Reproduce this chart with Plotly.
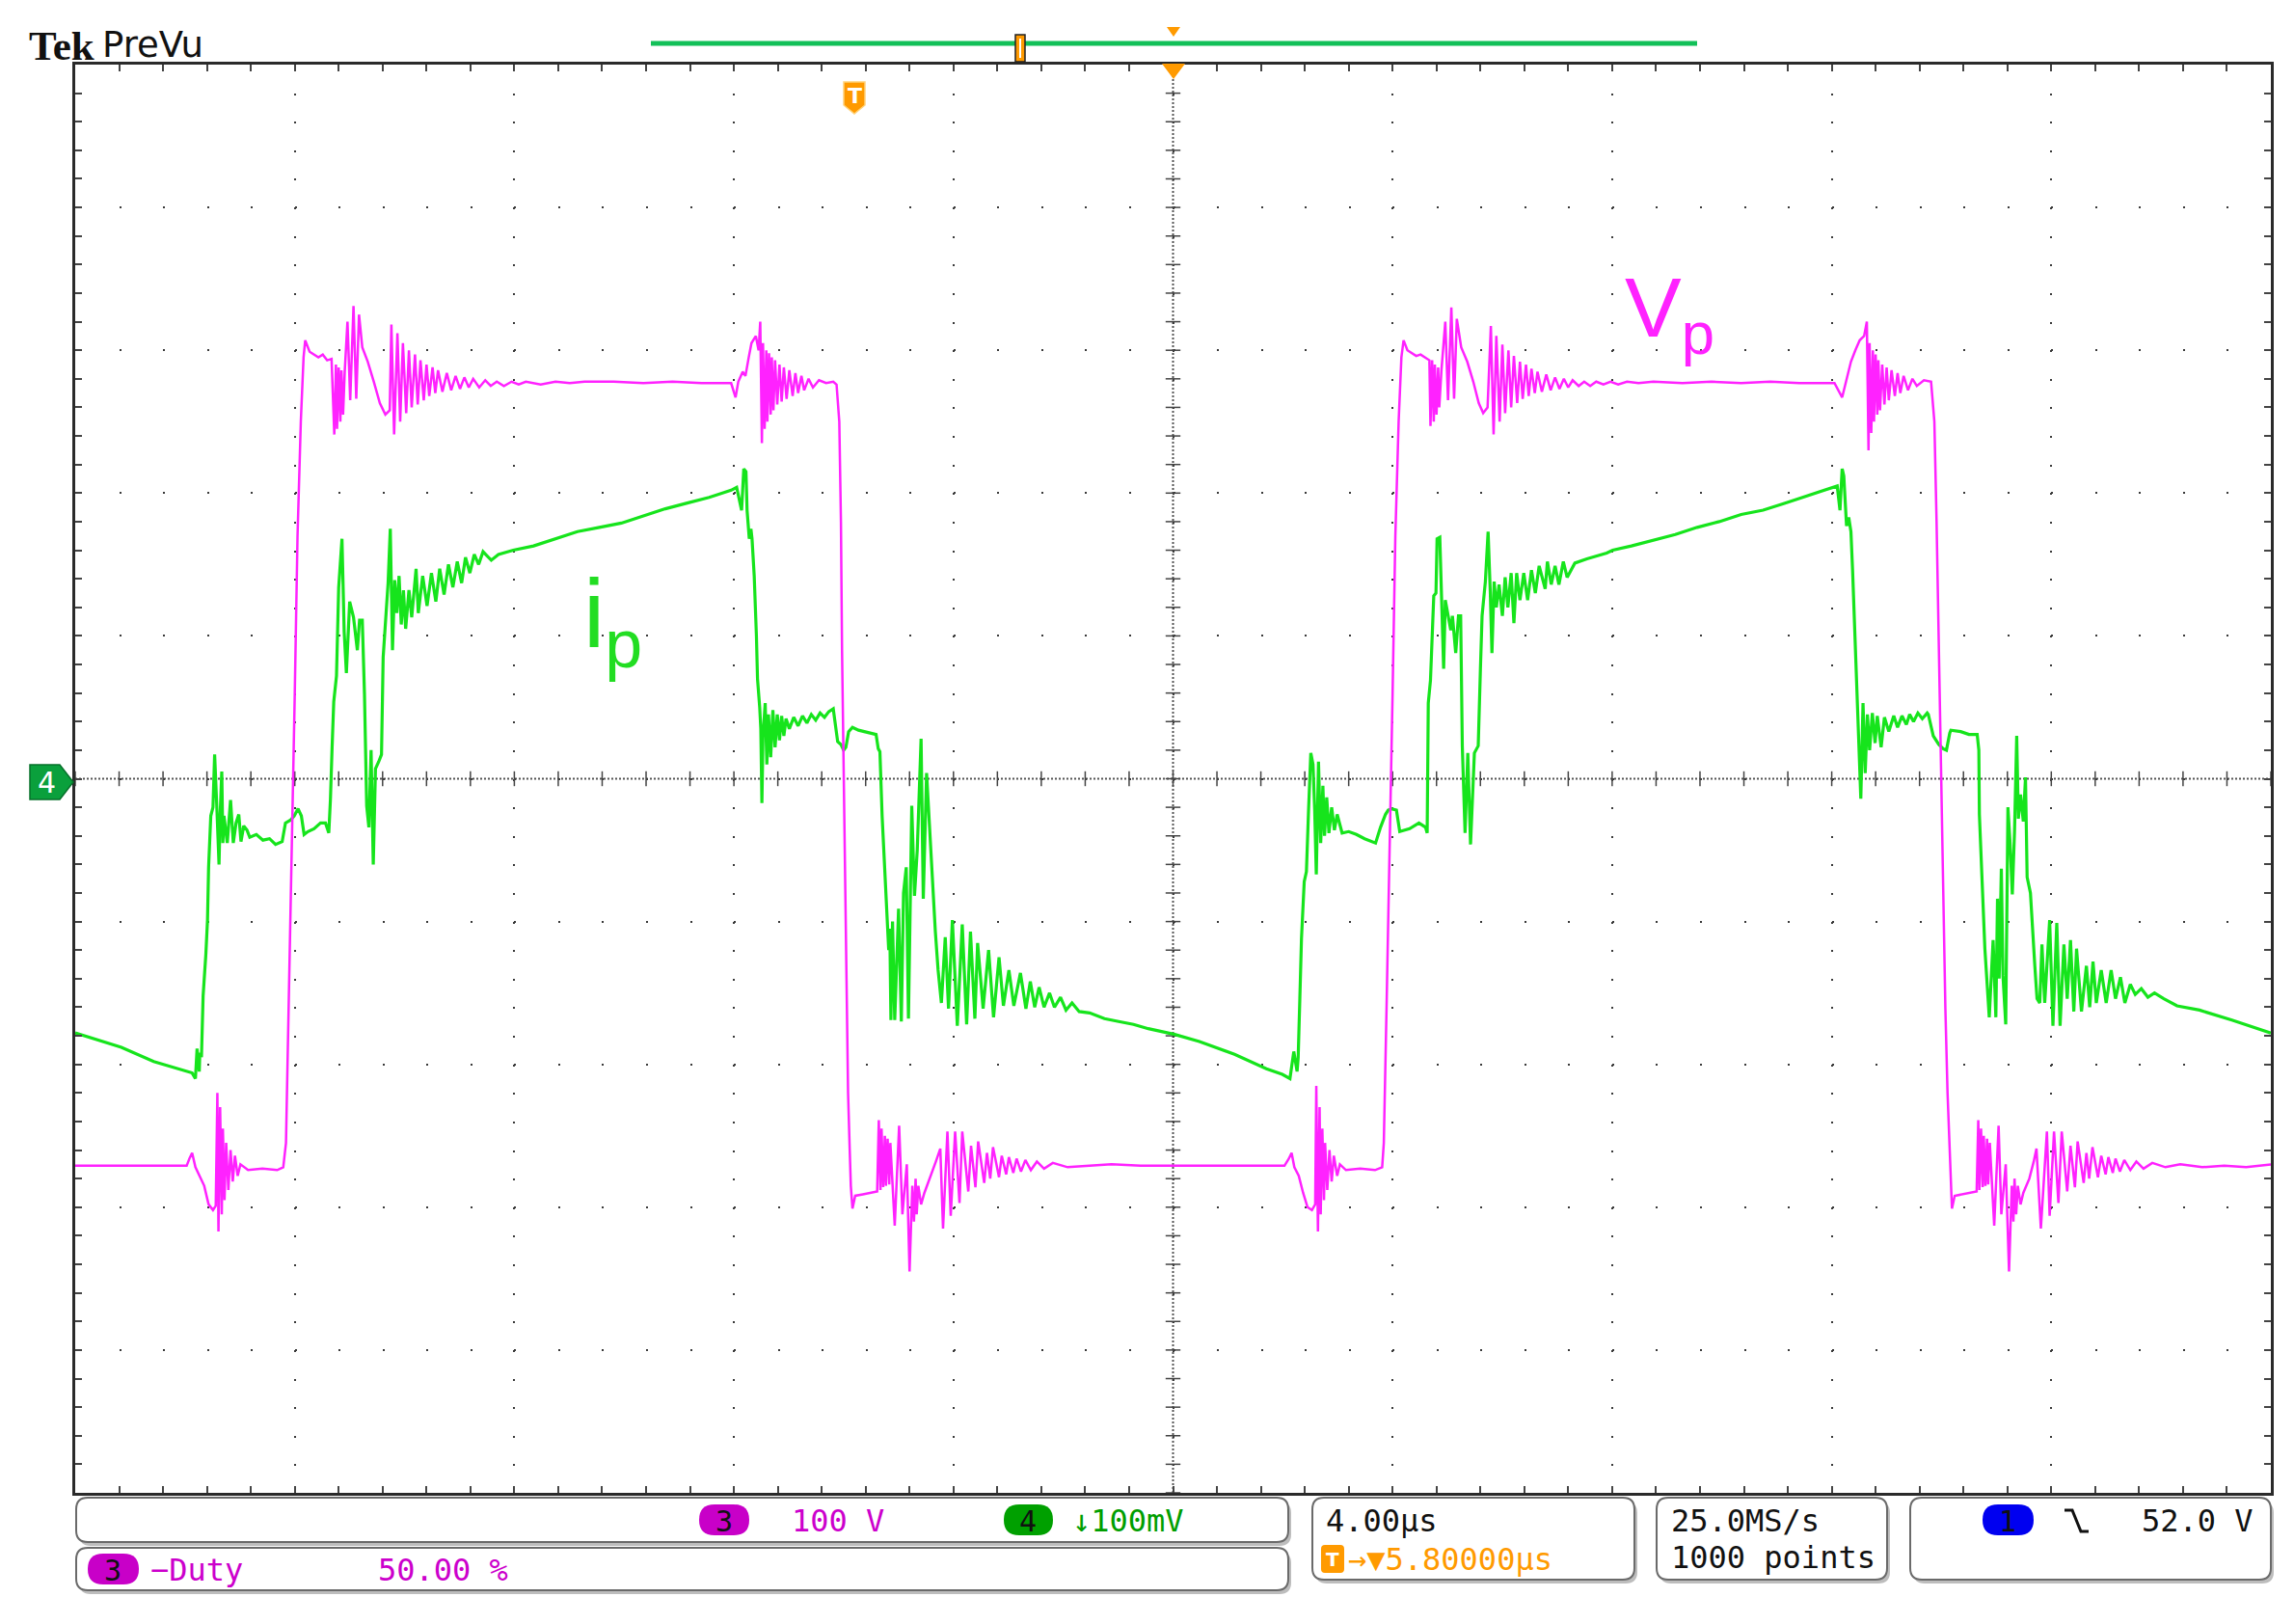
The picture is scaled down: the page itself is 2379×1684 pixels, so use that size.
import plotly.graph_objects as go

# page geometry in pixels (as measured on the screenshot)
W, H = 2379, 1684
L, R, T, B = 78, 24, 67, 136
PW, PH = W - L - R, H - T - B
OFF = 8  # default body margin of the html page

# scope settings: 4 us/div x 10 div, 10 vertical div
# ch3 (Vp) 100 V/div, ch4 (ip) 100 mV/div, values below in divisions
t_range = [0, 40]
div_range = [-5, 5]

# Vp (ch3), (time us, divisions)
vp_cycle1 = [
    (0.00, -2.71), (1.28, -2.71), (2.03, -2.71), (2.08, -2.66), (2.13, -2.62), (2.19, -2.72),
    (2.27, -2.78), (2.35, -2.85), (2.43, -2.98), (2.51, -3.02), (2.56, -2.99),
    (2.59, -2.20), (2.61, -3.17), (2.64, -2.30), (2.67, -3.05), (2.69, -2.45), (2.72, -2.95),
    (2.75, -2.55), (2.79, -2.88), (2.83, -2.60), (2.87, -2.82), (2.91, -2.64), (2.96, -2.78),
    (3.01, -2.70), (3.15, -2.74), (3.41, -2.73), (3.68, -2.74), (3.79, -2.72),
    (3.84, -2.55), (3.89, -1.60), (3.95, -0.50), (4.00, 0.60), (4.05, 1.70), (4.11, 2.50),
    (4.16, 2.95), (4.19, 3.07),
    (4.27, 2.99), (4.35, 2.97), (4.43, 2.95), (4.51, 2.97), (4.59, 2.93), (4.67, 2.94),
    (4.72, 2.41), (4.75, 2.90), (4.77, 2.45), (4.80, 2.88), (4.83, 2.50), (4.85, 2.86),
    (4.88, 2.55), (4.91, 2.85),
    (4.96, 3.20), (5.01, 2.65), (5.07, 3.31), (5.12, 2.66), (5.17, 3.25),
    (5.23, 3.02), (5.33, 2.92), (5.44, 2.78), (5.55, 2.63), (5.65, 2.55), (5.73, 2.58),
    (5.76, 3.18), (5.81, 2.41), (5.87, 3.12), (5.92, 2.50), (5.97, 3.05), (6.03, 2.56),
    (6.08, 3.00), (6.13, 2.60), (6.19, 2.97), (6.24, 2.62), (6.29, 2.93), (6.35, 2.65),
    (6.40, 2.90), (6.45, 2.68), (6.51, 2.88), (6.56, 2.70), (6.61, 2.86), (6.69, 2.71),
    (6.77, 2.84), (6.85, 2.72), (6.93, 2.82), (7.01, 2.73), (7.09, 2.81), (7.17, 2.74),
    (7.25, 2.80), (7.36, 2.74), (7.47, 2.79), (7.57, 2.75), (7.68, 2.78), (7.81, 2.75),
    (7.95, 2.78), (8.08, 2.76), (8.21, 2.78), (8.48, 2.76), (8.75, 2.78), (9.01, 2.77),
    (9.28, 2.78), (9.81, 2.78), (10.35, 2.77), (10.88, 2.78), (11.41, 2.77), (11.95, 2.77),
    (12.03, 2.67), (12.08, 2.78), (12.16, 2.85), (12.21, 2.82), (12.27, 2.95), (12.32, 3.05),
    (12.40, 3.10), (12.45, 3.00), (12.48, 3.20), (12.51, 2.35), (12.53, 3.05), (12.56, 2.45),
    (12.59, 3.00), (12.61, 2.50), (12.64, 2.98), (12.67, 2.55), (12.69, 2.95), (12.72, 2.58),
    (12.75, 2.93), (12.79, 2.62), (12.83, 2.90), (12.87, 2.64), (12.91, 2.88), (12.96, 2.66),
    (13.01, 2.86), (13.07, 2.68), (13.12, 2.84), (13.17, 2.70), (13.23, 2.82), (13.28, 2.72),
    (13.36, 2.80), (13.44, 2.74), (13.55, 2.79), (13.68, 2.77), (13.81, 2.78), (13.87, 2.76),
    (13.92, 2.50), (13.95, 1.80), (13.97, 0.90), (14.00, 0.00), (14.03, -0.90), (14.05, -1.60),
    (14.08, -2.20), (14.11, -2.60), (14.13, -2.85), (14.16, -3.01),
    (14.21, -2.92), (14.35, -2.91), (14.48, -2.90), (14.61, -2.89),
    (14.64, -2.39), (14.67, -2.88), (14.69, -2.45), (14.72, -2.86), (14.75, -2.50), (14.77, -2.85),
    (14.80, -2.52), (14.83, -2.84), (14.85, -2.55), (14.88, -2.80),
    (14.93, -3.13), (15.01, -2.43), (15.07, -3.05), (15.15, -2.70), (15.20, -3.45), (15.25, -2.85),
    (15.28, -3.10), (15.31, -2.80), (15.33, -3.05), (15.36, -2.85), (15.41, -2.98), (15.47, -2.90),
    (15.57, -2.80), (15.68, -2.68), (15.76, -2.59), (15.81, -3.15), (15.89, -2.47), (15.95, -3.06),
    (16.03, -2.47), (16.11, -2.97), (16.16, -2.47), (16.27, -2.89), (16.32, -2.57), (16.40, -2.86),
    (16.45, -2.54), (16.56, -2.83), (16.61, -2.62), (16.67, -2.80), (16.72, -2.58), (16.83, -2.79),
    (16.88, -2.64), (16.96, -2.77), (17.01, -2.65), (17.09, -2.76), (17.15, -2.66), (17.23, -2.75),
    (17.31, -2.67), (17.41, -2.74), (17.52, -2.68), (17.65, -2.73), (17.81, -2.69), (18.08, -2.72),
    (18.48, -2.71), (18.88, -2.70), (19.41, -2.71), (20.00, -2.71),
]

vp_cycle2 = [
    (20.75, -2.71), (21.55, -2.71), (22.03, -2.71), (22.11, -2.66), (22.16, -2.62), (22.21, -2.72),
    (22.29, -2.78), (22.37, -2.90), (22.45, -3.00), (22.53, -3.02), (22.59, -2.98),
    (22.61, -2.15), (22.64, -3.17), (22.67, -2.30), (22.69, -3.05), (22.72, -2.45), (22.75, -2.95),
    (22.77, -2.55), (22.81, -2.88), (22.85, -2.60), (22.89, -2.82), (22.93, -2.64), (22.99, -2.78),
    (23.04, -2.70), (23.15, -2.74), (23.41, -2.73), (23.68, -2.74), (23.81, -2.72),
    (23.84, -2.55), (23.89, -1.60), (23.95, -0.50), (24.00, 0.60), (24.05, 1.70), (24.11, 2.50),
    (24.16, 2.95), (24.20, 3.07),
    (24.27, 3.00), (24.35, 2.98), (24.43, 2.96), (24.51, 2.97), (24.59, 2.95), (24.67, 2.93),
    (24.69, 2.47), (24.72, 2.93), (24.75, 2.50), (24.77, 2.90), (24.80, 2.55), (24.83, 2.88),
    (24.85, 2.60), (24.89, 2.86),
    (24.96, 3.20), (25.01, 2.65), (25.07, 3.30), (25.12, 2.66), (25.17, 3.22),
    (25.25, 3.02), (25.36, 2.92), (25.47, 2.78), (25.57, 2.63), (25.65, 2.56), (25.73, 2.60),
    (25.79, 3.17), (25.84, 2.41), (25.89, 3.10), (25.95, 2.50), (26.00, 3.04), (26.05, 2.56),
    (26.11, 3.00), (26.16, 2.60), (26.21, 2.96), (26.27, 2.63), (26.32, 2.92), (26.37, 2.66),
    (26.43, 2.90), (26.48, 2.68), (26.53, 2.87), (26.59, 2.70), (26.64, 2.85), (26.72, 2.71),
    (26.80, 2.83), (26.88, 2.72), (26.96, 2.81), (27.04, 2.73), (27.12, 2.80), (27.20, 2.74),
    (27.28, 2.79), (27.39, 2.75), (27.49, 2.78), (27.60, 2.75), (27.71, 2.78), (27.84, 2.76),
    (27.97, 2.78), (28.11, 2.76), (28.27, 2.78), (28.48, 2.77), (28.75, 2.78), (29.28, 2.77),
    (29.81, 2.78), (30.35, 2.77), (30.88, 2.78), (31.41, 2.77), (32.05, 2.77),
    (32.19, 2.67), (32.24, 2.75), (32.35, 2.92), (32.43, 3.00), (32.51, 3.07), (32.59, 3.10),
    (32.64, 3.20), (32.67, 2.30), (32.69, 3.05), (32.72, 2.42), (32.75, 3.00), (32.77, 2.50),
    (32.80, 2.97), (32.83, 2.55), (32.85, 2.93), (32.88, 2.58), (32.92, 2.90), (32.96, 2.62),
    (33.00, 2.88), (33.04, 2.65), (33.09, 2.86), (33.15, 2.68), (33.20, 2.84), (33.25, 2.70),
    (33.31, 2.82), (33.39, 2.72), (33.47, 2.80), (33.55, 2.75), (33.68, 2.79), (33.81, 2.78),
    (33.87, 2.50), (33.91, 1.80), (33.95, 0.90), (33.99, 0.00), (34.03, -0.90), (34.07, -1.60),
    (34.11, -2.20), (34.15, -2.60), (34.17, -2.85), (34.19, -3.01),
    (34.24, -2.92), (34.37, -2.91), (34.51, -2.90), (34.64, -2.89),
    (34.67, -2.39), (34.69, -2.88), (34.72, -2.45), (34.75, -2.86), (34.77, -2.50), (34.80, -2.85),
    (34.83, -2.52), (34.85, -2.84), (34.88, -2.55), (34.91, -2.80),
    (34.96, -3.13), (35.04, -2.43), (35.09, -3.05), (35.17, -2.70), (35.23, -3.45), (35.28, -2.85),
    (35.31, -3.10), (35.33, -2.80), (35.36, -3.05), (35.39, -2.85), (35.44, -2.98), (35.49, -2.90),
    (35.60, -2.80), (35.68, -2.68), (35.73, -2.59), (35.81, -3.15), (35.92, -2.47), (35.97, -3.06),
    (36.05, -2.47), (36.13, -2.97), (36.19, -2.47), (36.29, -2.89), (36.35, -2.57), (36.43, -2.86),
    (36.48, -2.54), (36.59, -2.83), (36.64, -2.62), (36.69, -2.80), (36.75, -2.58), (36.85, -2.79),
    (36.91, -2.64), (36.99, -2.77), (37.04, -2.65), (37.12, -2.76), (37.17, -2.66), (37.25, -2.75),
    (37.33, -2.67), (37.44, -2.74), (37.55, -2.68), (37.68, -2.73), (37.84, -2.69), (38.08, -2.72),
    (38.35, -2.70), (38.75, -2.72), (39.15, -2.71), (39.55, -2.72), (40.00, -2.70),
]

# ip (ch4), (time us, divisions)
ip_cycle1 = [
    (0.00, -1.78), (0.84, -1.88), (1.43, -1.98), (2.01, -2.05), (2.13, -2.06), (2.19, -2.10),
    (2.22, -1.89), (2.26, -2.05), (2.27, -1.92), (2.30, -1.95), (2.33, -1.52), (2.38, -1.23),
    (2.41, -0.99), (2.43, -0.62), (2.47, -0.26), (2.51, -0.20), (2.54, 0.17), (2.58, -0.20),
    (2.62, -0.60), (2.64, -0.26), (2.67, 0.05), (2.69, -0.45), (2.71, -0.26), (2.77, -0.45),
    (2.83, -0.15), (2.88, -0.45), (2.93, -0.31), (2.98, -0.25), (3.02, -0.44), (3.07, -0.33),
    (3.13, -0.36), (3.18, -0.41), (3.30, -0.39), (3.42, -0.43), (3.54, -0.42), (3.65, -0.46),
    (3.77, -0.44), (3.83, -0.31), (3.92, -0.29), (3.99, -0.26), (4.06, -0.21), (4.12, -0.26),
    (4.17, -0.39), (4.24, -0.37), (4.35, -0.35), (4.47, -0.31), (4.56, -0.31), (4.62, -0.38),
    (4.65, -0.14), (4.68, 0.22), (4.71, 0.54), (4.76, 0.72), (4.80, 1.34), (4.86, 1.68),
    (4.90, 1.03), (4.94, 0.74), (5.00, 1.24), (5.07, 1.13), (5.14, 0.90), (5.18, 1.11),
    (5.23, 1.11), (5.27, 0.59), (5.31, -0.19), (5.35, -0.34), (5.39, 0.20), (5.43, -0.60),
    (5.47, 0.07), (5.53, 0.12), (5.58, 0.17), (5.61, 0.85), (5.66, 1.18), (5.70, 1.37),
    (5.74, 1.75), (5.78, 0.90), (5.82, 1.39), (5.86, 1.16), (5.90, 1.42), (5.94, 1.08),
    (5.98, 1.32), (6.02, 1.05), (6.08, 1.32), (6.13, 1.13), (6.21, 1.47), (6.25, 1.16),
    (6.33, 1.42), (6.41, 1.21), (6.49, 1.44), (6.57, 1.24), (6.64, 1.47), (6.72, 1.29),
    (6.80, 1.50), (6.88, 1.34), (6.96, 1.52), (7.04, 1.37), (7.11, 1.55), (7.19, 1.44),
    (7.27, 1.57), (7.35, 1.50), (7.43, 1.59), (7.58, 1.53), (7.71, 1.57), (7.98, 1.60),
    (8.35, 1.63), (8.75, 1.68), (9.15, 1.73), (9.55, 1.76), (9.95, 1.79), (10.35, 1.84),
    (10.75, 1.89), (11.15, 1.93), (11.55, 1.97), (11.95, 2.02), (12.05, 2.04),
    (12.14, 1.88), (12.18, 2.17), (12.22, 2.15), (12.24, 1.88), (12.28, 1.68), (12.31, 1.75),
    (12.33, 1.68), (12.37, 1.42), (12.41, 1.00), (12.43, 0.70), (12.47, 0.50), (12.49, 0.35),
    (12.51, -0.17), (12.53, 0.30), (12.57, 0.53), (12.60, 0.10), (12.63, 0.45), (12.67, 0.15),
    (12.71, 0.48), (12.75, 0.22), (12.79, 0.45), (12.83, 0.27), (12.87, 0.44), (12.91, 0.30),
    (12.95, 0.42), (13.01, 0.35), (13.09, 0.43), (13.17, 0.37), (13.25, 0.44), (13.33, 0.39),
    (13.41, 0.45), (13.49, 0.41), (13.57, 0.46), (13.65, 0.43), (13.73, 0.47), (13.81, 0.49),
    (13.89, 0.26), (13.95, 0.24), (14.00, 0.20), (14.04, 0.22), (14.09, 0.33), (14.16, 0.36),
    (14.27, 0.34), (14.37, 0.33), (14.48, 0.32), (14.59, 0.31), (14.63, 0.21), (14.66, 0.19),
    (14.70, -0.26), (14.75, -0.66), (14.78, -0.95), (14.82, -1.20), (14.84, -1.05), (14.86, -1.69),
    (14.89, -1.00), (14.93, -1.69), (15.00, -0.91), (15.05, -1.70), (15.09, -0.80), (15.14, -0.62),
    (15.18, -1.68), (15.24, -0.19), (15.29, -0.82), (15.34, -0.50), (15.41, 0.28), (15.45, -0.84),
    (15.51, 0.04), (15.56, -0.30), (15.61, -0.71), (15.67, -1.07), (15.72, -1.34), (15.78, -1.57),
    (15.85, -1.11), (15.91, -1.61), (15.98, -0.99), (16.07, -1.73), (16.16, -1.02), (16.24, -1.72),
    (16.31, -1.07), (16.39, -1.68), (16.44, -1.15), (16.54, -1.61), (16.64, -1.20), (16.73, -1.67),
    (16.83, -1.25), (16.91, -1.59), (17.01, -1.34), (17.10, -1.59), (17.22, -1.36), (17.32, -1.61),
    (17.40, -1.42), (17.48, -1.60), (17.56, -1.46), (17.65, -1.60), (17.75, -1.50), (17.84, -1.60),
    (17.95, -1.53), (18.05, -1.62), (18.16, -1.57), (18.29, -1.63), (18.48, -1.64), (18.75, -1.68),
    (19.01, -1.70), (19.28, -1.72), (19.55, -1.75), (19.81, -1.77), (20.03, -1.79),
]

ip_cycle2 = [
    (20.48, -1.84), (21.12, -1.93), (21.70, -2.03), (21.99, -2.07), (22.13, -2.10), (22.20, -1.91),
    (22.26, -2.05), (22.28, -1.95), (22.31, -1.54), (22.34, -1.12), (22.39, -0.72), (22.43, -0.65),
    (22.47, -0.21), (22.51, 0.18), (22.55, 0.10), (22.58, -0.21), (22.61, -0.67), (22.65, 0.12),
    (22.69, -0.45), (22.73, -0.05), (22.76, -0.40), (22.80, -0.13), (22.84, -0.38), (22.89, -0.20),
    (22.94, -0.36), (22.99, -0.25), (23.08, -0.38), (23.20, -0.37), (23.34, -0.39), (23.49, -0.42),
    (23.69, -0.45), (23.78, -0.34), (23.87, -0.25), (23.92, -0.22), (23.98, -0.21), (24.07, -0.22),
    (24.13, -0.37), (24.31, -0.35), (24.48, -0.31), (24.60, -0.34), (24.63, -0.38),
    (24.65, 0.53), (24.69, 0.69), (24.75, 1.28), (24.79, 1.30), (24.81, 1.68), (24.86, 1.69),
    (24.89, 1.20), (24.93, 0.77), (24.96, 1.25), (25.02, 1.12), (25.06, 1.04), (25.09, 1.14),
    (25.15, 0.88), (25.20, 1.14), (25.24, 1.14), (25.27, 0.23), (25.32, -0.38), (25.37, 0.18),
    (25.42, -0.46), (25.49, 0.18), (25.56, 0.23), (25.60, 0.77), (25.63, 1.14), (25.69, 1.38),
    (25.74, 1.73), (25.78, 1.30), (25.81, 0.88), (25.85, 1.38), (25.89, 1.20), (25.94, 1.36),
    (26.00, 1.14), (26.05, 1.41), (26.10, 1.20), (26.16, 1.44), (26.21, 1.09), (26.26, 1.44),
    (26.32, 1.25), (26.39, 1.44), (26.46, 1.25), (26.53, 1.46), (26.60, 1.30), (26.67, 1.49),
    (26.78, 1.33), (26.82, 1.52), (26.89, 1.36), (26.96, 1.49), (27.03, 1.36), (27.11, 1.52),
    (27.18, 1.41), (27.32, 1.51), (27.54, 1.54), (27.90, 1.58), (28.01, 1.60), (28.35, 1.63),
    (28.75, 1.67), (29.15, 1.71), (29.55, 1.76), (29.95, 1.80), (30.35, 1.85), (30.75, 1.88),
    (31.15, 1.93), (31.55, 1.98), (31.95, 2.03), (32.10, 2.05),
    (32.15, 1.88), (32.19, 2.17), (32.22, 2.12), (32.27, 1.77), (32.31, 1.83), (32.35, 1.73),
    (32.38, 1.46), (32.42, 1.04), (32.46, 0.55), (32.48, 0.31), (32.53, -0.14), (32.57, 0.53),
    (32.61, 0.04), (32.65, 0.45), (32.69, 0.20), (32.74, 0.46), (32.79, 0.25), (32.83, 0.44),
    (32.90, 0.22), (32.96, 0.43), (33.04, 0.33), (33.13, 0.44), (33.20, 0.36), (33.28, 0.44),
    (33.36, 0.38), (33.42, 0.45), (33.49, 0.40), (33.57, 0.46), (33.65, 0.42), (33.74, 0.46),
    (33.76, 0.45), (33.85, 0.30), (33.95, 0.24), (34.03, 0.21), (34.09, 0.20), (34.15, 0.32),
    (34.17, 0.34), (34.35, 0.33), (34.50, 0.31), (34.65, 0.31), (34.68, 0.20),
    (34.69, -0.25), (34.73, -0.60), (34.76, -0.96), (34.79, -1.19), (34.83, -1.43), (34.86, -1.64),
    (34.87, -1.67), (34.94, -1.13), (34.99, -1.67), (35.02, -0.84), (35.05, -1.40), (35.09, -0.63),
    (35.12, -1.38), (35.17, -1.72), (35.21, -0.20), (35.25, -0.46), (35.29, -0.81), (35.33, -0.37),
    (35.37, 0.30), (35.40, -0.28), (35.44, -0.11), (35.49, -0.30), (35.53, 0.01), (35.56, -0.69),
    (35.62, -0.80), (35.70, -1.31), (35.74, -1.54), (35.79, -1.57), (35.83, -1.16), (35.88, -1.57),
    (35.97, -0.99), (36.03, -1.73), (36.10, -1.01), (36.16, -1.73), (36.23, -1.16), (36.29, -1.54),
    (36.35, -1.13), (36.41, -1.63), (36.46, -1.19), (36.55, -1.63), (36.64, -1.31), (36.70, -1.60),
    (36.76, -1.28), (36.82, -1.57), (36.91, -1.34), (37.00, -1.57), (37.09, -1.34), (37.17, -1.54),
    (37.26, -1.39), (37.34, -1.57), (37.44, -1.44), (37.53, -1.51), (37.64, -1.47), (37.76, -1.53),
    (37.88, -1.50), (38.05, -1.54), (38.29, -1.59), (38.70, -1.62), (39.29, -1.69), (40.00, -1.78),
]

vp_t, vp_v = zip(*(vp_cycle1 + vp_cycle2))
ip_t, ip_v = zip(*(ip_cycle1 + ip_cycle2))

# colours
MAGENTA = "#ff22ff"
GREEN = "#16e41c"
ORANGE = "#ff9a00"
TXT_MAG = "#cc00cc"
TXT_GRN = "#009e00"
MONO = "DejaVu Sans Mono"


def px(x):
    return (x - L) / PW


def py(y):
    return (H - B - y) / PH


def poly(points):
    return "M " + " L ".join(f"{px(x):.5f},{py(y):.5f}" for x, y in points) + " Z"


def rrect(x0, y0, x1, y1, r):
    p = lambda x, y: f"{px(x):.5f},{py(y):.5f}"
    return (f"M {p(x0 + r, y0)} L {p(x1 - r, y0)} Q {p(x1, y0)} {p(x1, y0 + r)} "
            f"L {p(x1, y1 - r)} Q {p(x1, y1)} {p(x1 - r, y1)} "
            f"L {p(x0 + r, y1)} Q {p(x0, y1)} {p(x0, y1 - r)} "
            f"L {p(x0, y0 + r)} Q {p(x0, y0)} {p(x0 + r, y0)} Z")


fig = go.Figure()

# graticule cross ticks on the centre lines
minor_t = [i * 0.8 for i in range(51)]
minor_d = [i * 0.2 - 5 for i in range(51)]
fig.add_trace(go.Scatter(x=minor_t, y=[0] * len(minor_t), mode="markers", hoverinfo="skip",
                         marker=dict(symbol="line-ns", size=11, line=dict(width=1.5, color="#444"))))
fig.add_trace(go.Scatter(x=[20] * len(minor_d), y=minor_d, mode="markers", hoverinfo="skip",
                         marker=dict(symbol="line-ew", size=11, line=dict(width=1.5, color="#444"))))

fig.add_trace(go.Scatter(x=ip_t, y=ip_v, mode="lines", line=dict(color=GREEN, width=3.2), hoverinfo="skip"))
fig.add_trace(go.Scatter(x=vp_t, y=vp_v, mode="lines", line=dict(color=MAGENTA, width=2.5), hoverinfo="skip"))

shapes = [
    dict(type="line", xref="paper", yref="y", x0=0, x1=1, y0=0, y1=0, layer="below",
         line=dict(color="#555", width=2, dash="2px,2px")),
    dict(type="line", xref="x", yref="paper", x0=20, x1=20, y0=0, y1=1, layer="below",
         line=dict(color="#555", width=2, dash="2px,2px")),
]

# status boxes (pixel positions)
boxes = [(79, 1553, 1336, 1599), (79, 1605, 1336, 1649),
         (1361, 1553, 1695, 1638), (1718, 1553, 1957, 1638), (1981, 1553, 2355, 1638)]
for x0, y0, x1, y1 in boxes:
    shapes.append(dict(type="path", xref="paper", yref="paper", path=rrect(x0 + 3, y0 + 4, x1 + 3, y1 + 4, 12),
                       fillcolor="#bdbdbd", line=dict(width=0)))
for x0, y0, x1, y1 in boxes:
    shapes.append(dict(type="path", xref="paper", yref="paper", path=rrect(x0, y0, x1, y1, 12),
                       fillcolor="white", line=dict(color="#6a6a6a", width=2)))

# channel badges
badges = [(725, 1560, 777, 1592, "#c800c8"), (1041, 1560, 1092, 1592, "#00a000"),
          (91, 1611, 144, 1643, "#c800c8"), (2056, 1560, 2109, 1592, "#0000f0")]
for x0, y0, x1, y1, c in badges:
    shapes.append(dict(type="path", xref="paper", yref="paper", path=rrect(x0, y0, x1, y1, 16),
                       fillcolor=c, line=dict(width=0)))

# trigger slope symbol
shapes.append(dict(type="path", xref="paper", yref="paper",
                   path="M " + " L ".join(f"{px(x):.5f},{py(y):.5f}" for x, y in
                                          [(2141, 1566), (2149, 1566), (2158, 1588), (2166, 1588)]),
                   line=dict(color="#111", width=3)))

# orange T icon in timebase box
shapes.append(dict(type="path", xref="paper", yref="paper", path=rrect(1370, 1602, 1394, 1631, 4),
                   fillcolor=ORANGE, line=dict(width=0)))

# record view bar at top
shapes.append(dict(type="line", xref="paper", yref="paper", x0=px(675), x1=px(1760), y0=py(45), y1=py(45),
                   line=dict(color="#12c058", width=5)))
shapes.append(dict(type="rect", xref="paper", yref="paper", x0=px(1053), x1=px(1063), y0=py(36), y1=py(64),
                   fillcolor=ORANGE, line=dict(color="#222", width=1.5)))
shapes.append(dict(type="line", xref="paper", yref="paper", x0=px(1058), x1=px(1058), y0=py(40), y1=py(60),
                   line=dict(color="white", width=2)))
shapes.append(dict(type="path", xref="paper", yref="paper", path=poly([(1210, 28), (1224, 28), (1217, 38)]),
                   fillcolor=ORANGE, line=dict(width=0)))
shapes.append(dict(type="path", xref="paper", yref="paper", path=poly([(1205, 66), (1229, 66), (1217, 82)]),
                   fillcolor=ORANGE, line=dict(width=0)))
# trigger position marker
shapes.append(dict(type="path", xref="paper", yref="paper",
                   path=poly([(875, 85), (897, 85), (897, 109), (886, 118), (875, 109)]),
                   fillcolor=ORANGE, line=dict(color="#ffd27a", width=1.5)))
# ch4 ground marker
shapes.append(dict(type="path", xref="paper", yref="paper",
                   path=poly([(31, 793), (62, 793), (76, 811), (62, 829), (31, 829)]),
                   fillcolor="#0aa03c", line=dict(color="#06702a", width=1.5)))

annotations = []


def label(x, y, text, color="#111", size=32, family=MONO, xanchor="left"):
    annotations.append(dict(x=px(x), y=py(y), xref="paper", yref="paper", text=text, showarrow=False,
                            xanchor=xanchor, yanchor="middle", font=dict(family=family, size=size, color=color)))


label(28, 47, "<b>Tek</b>", size=43, family="Liberation Serif")
label(104, 46, "PreVu", size=37, family="DejaVu Sans")
label(886, 99, "<b>T</b>", color="white", size=22, family="DejaVu Sans", xanchor="center")
label(48, 811, "4", color="white", size=30, family="DejaVu Sans", xanchor="center")

label(751, 1577, "3", size=30, xanchor="center")
label(819, 1577, "100 V", color=TXT_MAG)
label(1066, 1577, "4", size=30, xanchor="center")
label(1110, 1577, "↓100mV", color=TXT_GRN)
label(117, 1628, "3", size=30, xanchor="center")
label(154, 1628, "−Duty", color=TXT_MAG)
label(390, 1628, "50.00 %", color=TXT_MAG)
label(1373, 1577, "4.00μs")
label(1382, 1617, "<b>T</b>", color="white", size=20, family="DejaVu Sans", xanchor="center")
label(1396, 1617, "→▼5.80000μs", color=ORANGE)
label(1731, 1577, "25.0MS/s")
label(1731, 1615, "1000 points")
label(2082, 1577, "1", size=30, xanchor="center")
label(2219, 1577, "52.0 V")

# trace labels
annotations.append(dict(x=9.8, y=1.11, xref="x", yref="y", text="i<sub>p</sub>", showarrow=False,
                        xanchor="center", yanchor="middle",
                        font=dict(family="Liberation Sans", size=100, color="#22dd22")))
annotations.append(dict(x=29.04, y=3.26, xref="x", yref="y", text="V<sub>p</sub>", showarrow=False,
                        xanchor="center", yanchor="middle",
                        font=dict(family="Liberation Sans", size=88, color="#ff22ff")))

axis_common = dict(showticklabels=False, zeroline=False, showline=True, linecolor="#2a2a2a", linewidth=3,
                   mirror="allticks", ticks="inside", ticklen=7, tickwidth=1.5, tickcolor="#444",
                   showgrid=True, gridcolor="#3a3a3a", gridwidth=2, fixedrange=True)

# the figure sits inside the page's 8px body margin
fig.update_layout(
    width=W - 2 * OFF, height=H - 2 * OFF,
    margin=dict(l=L - OFF, r=R - OFF, t=T - OFF, b=B - OFF, autoexpand=False),
    paper_bgcolor="white", plot_bgcolor="white",
    showlegend=False, hovermode=False,
    xaxis=dict(range=t_range, dtick=4, tick0=0, griddash=f"2px,{PH / 50 - 2:.2f}px",
               minor=dict(dtick=0.8, tick0=0, ticks="inside", ticklen=7, tickwidth=1.5,
                          tickcolor="#444", showgrid=False), **axis_common),
    yaxis=dict(range=div_range, dtick=1, tick0=0, griddash=f"2px,{PW / 50 - 2:.2f}px",
               minor=dict(dtick=0.2, tick0=0, ticks="inside", ticklen=7, tickwidth=1.5,
                          tickcolor="#444", showgrid=False), **axis_common),
    shapes=shapes,
    annotations=annotations,
)

fig.write_html("out.html", config={"displayModeBar": False})
